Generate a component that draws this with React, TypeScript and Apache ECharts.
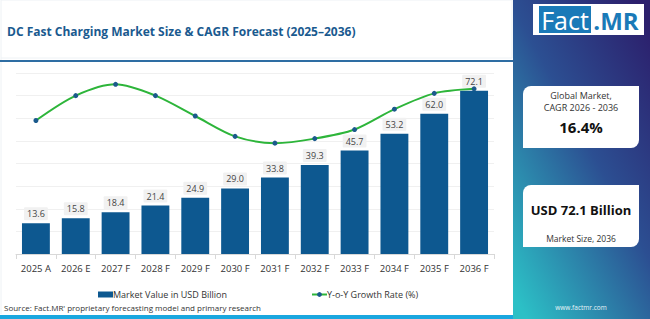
import React, { useEffect, useRef } from 'react';
import * as echarts from 'echarts';

const categories = ['2025 A', '2026 E', '2027 F', '2028 F', '2029 F', '2030 F', '2031 F', '2032 F', '2033 F', '2034 F', '2035 F', '2036 F'];
const marketValue = [13.6, 15.8, 18.4, 21.4, 24.9, 29.0, 33.8, 39.3, 45.7, 53.2, 62.0, 72.1];
const growthRate = [15.9, 17.0, 17.5, 17.0, 16.1, 15.2, 14.9, 15.1, 15.5, 16.4, 17.1, 17.3];
const valueAxis = { min: 0, max: 80, interval: 10 };
const rateAxis = { min: 10, max: 18 };

const titleText = 'DC Fast Charging Market Size & CAGR Forecast (2025\u20132036)';
const sourceText = "Source: Fact.MR' proprietary forecasting model and primary research";
const barName = 'Market Value in USD Billion';
const lineName = 'Y-o-Y Growth Rate (%)';
const cagrLabel1 = 'Global Market,';
const cagrLabel2 = 'CAGR 2026 - 2036';
const cagrValue = '16.4%';
const sizeValue = 'USD 72.1 Billion';
const sizeLabel = 'Market Size, 2036';
const website = 'www.factmr.com';

const FONT = '"Open Sans", sans-serif';

export default function App() {
  const ref = useRef<HTMLDivElement>(null);
  useEffect(() => {
    if (!ref.current) return;
    const chart = echarts.init(ref.current, null, { renderer: 'svg' });
    const panelGrad = new echarts.graphic.LinearGradient(0.9, 0, 0.1, 1, [
      { offset: 0, color: '#2c1f6c' },
      { offset: 0.45, color: '#2c4f92' },
      { offset: 1, color: '#2cc0c6' },
    ]);
    chart.setOption({
      animation: false,
      textStyle: { fontFamily: FONT },
      grid: { left: 16, right: 156, top: 73, bottom: 65 },
      legend: {
        left: 98,
        top: 289,
        padding: 0,
        itemWidth: 15,
        itemHeight: 6,
        itemGap: 84,
        textStyle: { fontSize: 9, color: '#333', fontFamily: FONT, padding: [0, 0, 0, -5], lineHeight: 11 },
        data: [
          { name: barName, icon: 'rect' },
          { name: lineName },
        ],
      },
      xAxis: {
        type: 'category',
        data: categories,
        axisLine: { lineStyle: { color: '#d8d8d8' } },
        axisTick: { show: true, length: 5, lineStyle: { color: '#d8d8d8' } },
        axisLabel: { color: '#333', fontSize: 9.5, margin: 9, fontFamily: FONT },
      },
      yAxis: [
        {
          type: 'value',
          min: valueAxis.min,
          max: valueAxis.max,
          interval: valueAxis.interval,
          axisLabel: { show: false },
          axisLine: { show: false },
          axisTick: { show: false },
          splitLine: { lineStyle: { color: '#f0f0f0' } },
        },
        {
          type: 'value',
          min: rateAxis.min,
          max: rateAxis.max,
          show: false,
          splitLine: { show: false },
        },
      ],
      series: [
        {
          name: barName,
          type: 'bar',
          data: marketValue,
          barWidth: '70%',
          itemStyle: { color: '#0d5890' },
          label: {
            show: true,
            position: 'top',
            distance: 3,
            fontSize: 9,
            color: '#444',
            backgroundColor: '#f1f1f1',
            padding: [2, 3],
            borderRadius: 1,
            formatter: (p: any) => Number(p.value).toFixed(1),
          },
        },
        {
          name: lineName,
          type: 'line',
          yAxisIndex: 1,
          data: growthRate,
          smooth: 0.3,
          symbol: 'circle',
          symbolSize: 5,
          itemStyle: { color: '#1b5a8c' },
          lineStyle: { color: '#2db53a', width: 2 },
          z: 5,
        },
      ],
      graphic: [
        { type: 'rect', shape: { x: 1, y: 0, width: 511, height: 58 }, style: { fill: 'none', stroke: '#eef2f5', lineWidth: 1 }, silent: true },
        { type: 'line', shape: { x1: 1, y1: 58, x2: 1, y2: 314 }, style: { stroke: '#eef2f5', lineWidth: 1 } },
        {
          type: 'text', left: 7, top: 25,
          style: { text: titleText, fill: '#1a5a8f', font: `bold 12px ${FONT}` },
        },
        { type: 'rect', shape: { x: 0, y: 60, width: 513, height: 2 }, style: { fill: '#2e6da3' } },
        { type: 'rect', shape: { x: 0, y: 315, width: 513, height: 4 }, style: { fill: '#1aa7df' } },
        {
          type: 'text', left: 4, top: 303,
          style: { text: sourceText, fill: '#333', font: `8px ${FONT}` },
        },
        // right panel
        { type: 'rect', shape: { x: 513, y: 0, width: 137, height: 319 }, style: { fill: panelGrad } },
        { type: 'rect', shape: { x: 533, y: 4, width: 111, height: 31 }, style: { fill: '#ffffff' } },
        { type: 'rect', shape: { x: 539, y: 6, width: 52, height: 27 }, style: { fill: '#1a7ab8' } },
        {
          type: 'text', x: 565, y: 20,
          style: { text: 'Fact', fill: '#fff', font: `25px ${FONT}`, align: 'center', verticalAlign: 'middle' },
        },
        {
          type: 'text', x: 616, y: 20,
          style: { text: '.MR', fill: '#1a7ab8', font: `bold 24px ${FONT}`, align: 'center', verticalAlign: 'middle' },
        },
        { type: 'rect', shape: { x: 523, y: 86, width: 116, height: 62, r: [8, 0, 8, 0] }, style: { fill: '#fff' } },
        {
          type: 'text', x: 581, y: 95,
          style: { text: cagrLabel1, fill: '#333', font: `9px ${FONT}`, align: 'center', verticalAlign: 'middle' },
        },
        {
          type: 'text', x: 581, y: 107,
          style: { text: cagrLabel2, fill: '#333', font: `9px ${FONT}`, align: 'center', verticalAlign: 'middle' },
        },
        {
          type: 'text', x: 581, y: 127,
          style: { text: cagrValue, fill: '#111', font: `bold 15px ${FONT}`, align: 'center', verticalAlign: 'middle' },
        },
        { type: 'rect', shape: { x: 523, y: 185, width: 116, height: 62, r: [8, 0, 8, 0] }, style: { fill: '#fff' } },
        {
          type: 'text', x: 581, y: 210,
          style: { text: sizeValue, fill: '#111', font: `bold 13px ${FONT}`, align: 'center', verticalAlign: 'middle' },
        },
        {
          type: 'text', x: 581, y: 238,
          style: { text: sizeLabel, fill: '#333', font: `8.5px ${FONT}`, align: 'center', verticalAlign: 'middle' },
        },
        {
          type: 'text', x: 581, y: 307,
          style: { text: website, fill: '#e8f4f8', font: `6.5px ${FONT}`, align: 'center', verticalAlign: 'middle' },
        },
      ],
    });
    return () => chart.dispose();
  }, []);
  return <div ref={ref} style={{ position: 'fixed', left: 0, top: 0, width: 650, height: 319, background: '#fff' }} />;
}
